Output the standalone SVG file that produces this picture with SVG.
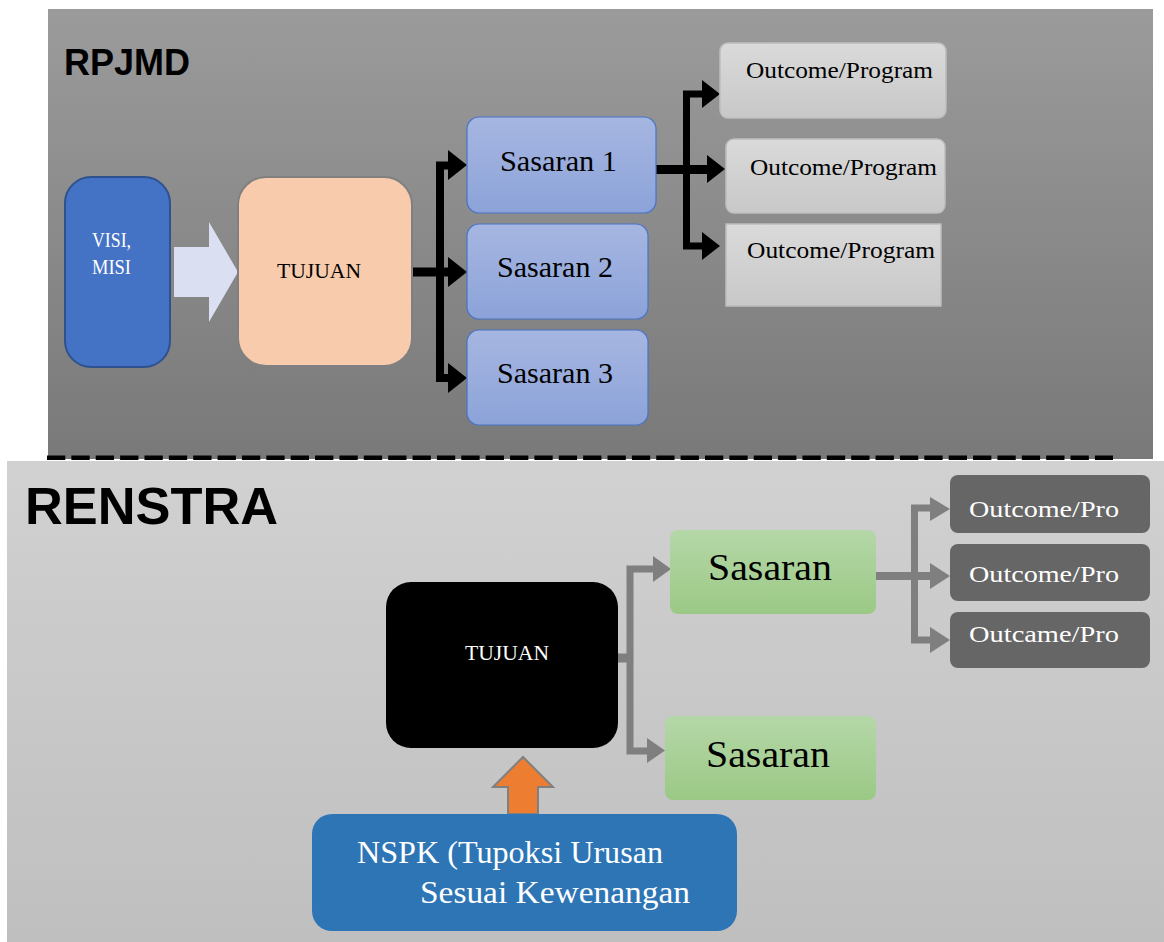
<svg xmlns="http://www.w3.org/2000/svg" width="1164" height="942" viewBox="0 0 1164 942">
<defs>
<linearGradient id="gTop" x1="0" y1="0" x2="0" y2="1"><stop offset="0" stop-color="#9b9b9b"/><stop offset="1" stop-color="#797979"/></linearGradient>
<linearGradient id="gBot" x1="0" y1="0" x2="0" y2="1"><stop offset="0" stop-color="#d1d1d1"/><stop offset="1" stop-color="#bfbfbf"/></linearGradient>
<linearGradient id="gBlue" x1="0" y1="0" x2="0" y2="1"><stop offset="0" stop-color="#a6b6e1"/><stop offset="1" stop-color="#8ca3d9"/></linearGradient>
<linearGradient id="gGrey" x1="0" y1="0" x2="0" y2="1"><stop offset="0" stop-color="#dadada"/><stop offset="1" stop-color="#c8c8c8"/></linearGradient>
<linearGradient id="gGreen" x1="0" y1="0" x2="0" y2="1"><stop offset="0" stop-color="#b5d7a8"/><stop offset="1" stop-color="#9bc985"/></linearGradient>
<style>
.serif{font-family:"Liberation Serif","Times New Roman",serif;}
.head{font-family:"Liberation Sans",Arial,sans-serif;font-weight:bold;fill:#000;}
.blk{fill:none;stroke:#000;stroke-linejoin:miter;}
.gry{fill:none;stroke:#7f7f7f;stroke-linejoin:miter;}
.sas{fill:url(#gBlue);stroke:#4a74c6;stroke-width:1.2;}
.out{fill:url(#gGrey);stroke:#bdbdbd;stroke-width:1.5;}
.grn{fill:url(#gGreen);}
.dk{fill:#666666;}
</style>
</defs>
<rect x="0" y="0" width="1164" height="942" fill="#ffffff"/>
<rect x="48" y="9" width="1105" height="450" fill="url(#gTop)"/>
<rect x="7" y="461" width="1157" height="481" fill="url(#gBot)"/>
<line x1="48" y1="460.5" x2="1153" y2="460.5" stroke="#ffffff" stroke-width="1"/>
<line x1="47" y1="457.8" x2="1113" y2="457.8" stroke="#000" stroke-width="4.5" stroke-dasharray="18.3 6.07"/>
<text class="head" x="64" y="75" font-size="36">RPJMD</text>
<text class="head" x="25" y="524" font-size="52" textLength="253" lengthAdjust="spacingAndGlyphs">RENSTRA</text>

<g id="connectors">
<polygon points="174,247 209,247 209,222 238,272 209,322 209,297 174,297" fill="#dae0f2"/>
<path class="blk" d="M412 272 H450" stroke-width="9"/>
<path class="blk" d="M450 165.5 H440 V378 H450" stroke-width="8"/>
<polygon points="448,150 467,165 448,180" fill="#000"/>
<polygon points="448,257 467,272 448,287" fill="#000"/>
<polygon points="448,363 467,378 448,393" fill="#000"/>
<path class="blk" d="M656 169.5 H710" stroke-width="9"/>
<path class="blk" d="M703 94 H686.5 V246 H703" stroke-width="7"/>
<polygon points="702,80 720,94 702,108" fill="#000"/>
<polygon points="707,155 725,169 707,183" fill="#000"/>
<polygon points="702,232 720,246 702,260" fill="#000"/>
<path class="gry" d="M589 658 H633" stroke-width="9"/>
<path class="gry" d="M654 569 H630 V751 H648" stroke-width="7"/>
<polygon points="653,556 671,569 653,582" fill="#7f7f7f"/>
<polygon points="647,738 665,750.5 647,763" fill="#7f7f7f"/>
<path class="gry" d="M876 576 H932" stroke-width="8"/>
<path class="gry" d="M931 508 H914.5 V640 H931" stroke-width="7"/>
<polygon points="930,497 950,509 930,521" fill="#7f7f7f"/>
<polygon points="930,563 950,576 930,589" fill="#7f7f7f"/>
<polygon points="930,627 950,640 930,653" fill="#7f7f7f"/>
<polygon points="523,757 553,787 538,787 538,814 508,814 508,787 493,787" fill="#ed7d31" stroke="#808080" stroke-width="2"/>
</g>

<g id="visi">
<rect x="65" y="177" width="105" height="190" rx="26" fill="#4472c4" stroke="#2f528f" stroke-width="2"/>
<text class="serif" x="92" y="247" font-size="22" fill="#fff" textLength="39" lengthAdjust="spacingAndGlyphs">VISI,</text>
<text class="serif" x="92" y="274" font-size="22" fill="#fff" textLength="39" lengthAdjust="spacingAndGlyphs">MISI</text>
</g>
<g id="tujuan-rpjmd">
<rect x="238" y="177" width="174" height="189" rx="28" fill="#f8cbad" stroke="#808080" stroke-width="2"/>
<text class="serif" x="277" y="278" font-size="22" fill="#000" textLength="84" lengthAdjust="spacingAndGlyphs">TUJUAN</text>
</g>
<g id="sasaran1">
<rect class="sas" x="467" y="117" width="189" height="96" rx="12"/>
<text class="serif" x="500" y="171" font-size="30" textLength="117" lengthAdjust="spacingAndGlyphs">Sasaran 1</text>
</g>
<g id="sasaran2">
<rect class="sas" x="467" y="224" width="181" height="95" rx="12"/>
<text class="serif" x="497" y="277" font-size="30" textLength="116" lengthAdjust="spacingAndGlyphs">Sasaran 2</text>
</g>
<g id="sasaran3">
<rect class="sas" x="467" y="330" width="181" height="95" rx="12"/>
<text class="serif" x="497" y="383" font-size="30" textLength="116" lengthAdjust="spacingAndGlyphs">Sasaran 3</text>
</g>
<g id="outcome1">
<rect class="out" x="720" y="43" width="226" height="75" rx="8"/>
<text class="serif" x="746" y="78" font-size="23" textLength="187" lengthAdjust="spacingAndGlyphs">Outcome/Program</text>
</g>
<g id="outcome2">
<rect class="out" x="726" y="139" width="219" height="74" rx="8"/>
<text class="serif" x="750" y="175" font-size="23" textLength="187" lengthAdjust="spacingAndGlyphs">Outcome/Program</text>
</g>
<g id="outcome3">
<rect class="out" x="726" y="224" width="215" height="82"/>
<text class="serif" x="747" y="258" font-size="23" textLength="188" lengthAdjust="spacingAndGlyphs">Outcome/Program</text>
</g>

<g id="tujuan-renstra">
<rect x="386" y="582" width="232" height="166" rx="25" fill="#000"/>
<text class="serif" x="465" y="660" font-size="22" fill="#fff" textLength="84" lengthAdjust="spacingAndGlyphs">TUJUAN</text>
</g>
<g id="sasaran-a">
<rect class="grn" x="670" y="530" width="206" height="84" rx="8"/>
<text class="serif" x="708" y="580" font-size="37" textLength="124" lengthAdjust="spacingAndGlyphs">Sasaran</text>
</g>
<g id="sasaran-b">
<rect class="grn" x="665" y="716" width="211" height="84" rx="8"/>
<text class="serif" x="706" y="767" font-size="37" textLength="124" lengthAdjust="spacingAndGlyphs">Sasaran</text>
</g>
<g id="outpro1">
<rect class="dk" x="950" y="475" width="200" height="58" rx="8"/>
<text class="serif" x="969" y="517" font-size="24" fill="#fff" textLength="150" lengthAdjust="spacingAndGlyphs">Outcome/Pro</text>
</g>
<g id="outpro2">
<rect class="dk" x="950" y="544" width="200" height="57" rx="8"/>
<text class="serif" x="969" y="582" font-size="24" fill="#fff" textLength="150" lengthAdjust="spacingAndGlyphs">Outcome/Pro</text>
</g>
<g id="outpro3">
<rect class="dk" x="950" y="612" width="200" height="56" rx="8"/>
<text class="serif" x="969" y="642" font-size="24" fill="#fff" textLength="150" lengthAdjust="spacingAndGlyphs">Outcame/Pro</text>
</g>
<g id="nspk">
<rect x="312" y="814" width="425" height="117" rx="20" fill="#2e75b6"/>
<text class="serif" x="357" y="863" font-size="31" fill="#fff" textLength="306" lengthAdjust="spacingAndGlyphs">NSPK (Tupoksi Urusan</text>
<text class="serif" x="420" y="903" font-size="31" fill="#fff" textLength="270" lengthAdjust="spacingAndGlyphs">Sesuai Kewenangan</text>
</g>
</svg>
